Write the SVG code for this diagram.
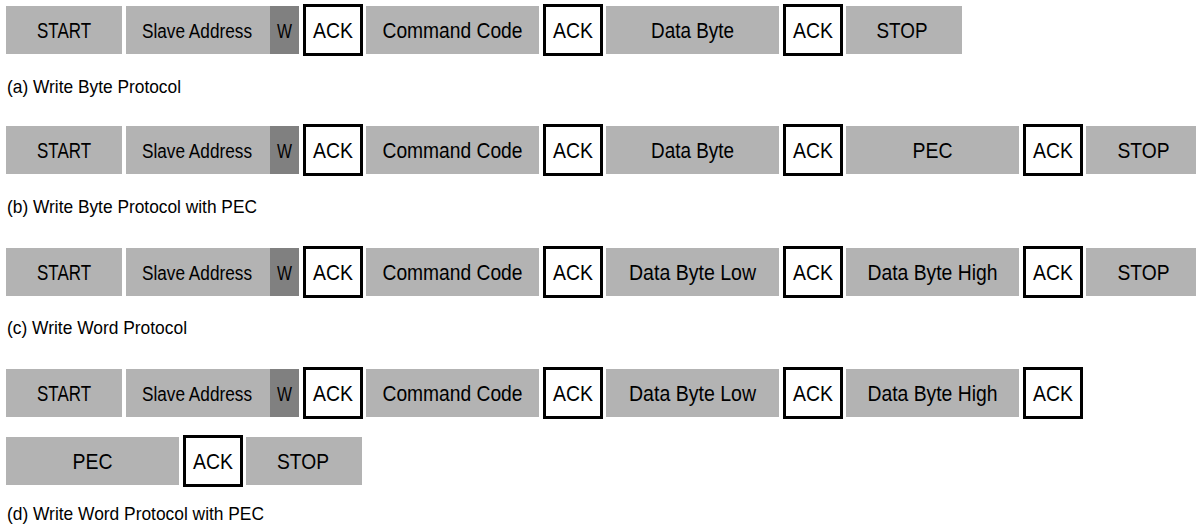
<svg xmlns="http://www.w3.org/2000/svg" width="1196" height="527" viewBox="0 0 1196 527">
<style>
.f{fill:#b3b3b3}
.w{fill:#808080}
.a{fill:#fff;stroke:#000;stroke-width:3}
.t{font-family:"Liberation Sans",Arial,sans-serif;font-size:22px;fill:#000;text-anchor:middle}
.s{font-size:20px}
.l{font-family:"Liberation Sans",Arial,sans-serif;font-size:18.5px;fill:#000}
</style>
<rect width="1196" height="527" fill="#fff"/>
<!-- Row (a) -->
<g id="a-start"><rect class="f" x="6" y="6" width="116" height="48"/><text class="t" x="64" y="38" textLength="54" lengthAdjust="spacingAndGlyphs">START</text></g>
<g id="a-addr"><rect class="f" x="126" y="6" width="144" height="48"/><text class="t s" x="197" y="38" textLength="110" lengthAdjust="spacingAndGlyphs">Slave Address</text></g>
<g id="a-w"><rect class="w" x="270" y="6" width="29" height="48"/><text class="t s" x="284.5" y="38" textLength="15" lengthAdjust="spacingAndGlyphs">W</text></g>
<g id="a-ack1"><rect class="a" x="304.5" y="5.5" width="57" height="49"/><text class="t" x="333" y="38" textLength="40" lengthAdjust="spacingAndGlyphs">ACK</text></g>
<g id="a-cmd"><rect class="f" x="366" y="6" width="173" height="48"/><text class="t" x="452.5" y="38" textLength="140" lengthAdjust="spacingAndGlyphs">Command Code</text></g>
<g id="a-ack2"><rect class="a" x="544.5" y="5.5" width="57" height="49"/><text class="t" x="573" y="38" textLength="40" lengthAdjust="spacingAndGlyphs">ACK</text></g>
<g id="a-data"><rect class="f" x="606" y="6" width="173" height="48"/><text class="t" x="692.5" y="38" textLength="83" lengthAdjust="spacingAndGlyphs">Data Byte</text></g>
<g id="a-ack3"><rect class="a" x="784.5" y="5.5" width="57" height="49"/><text class="t" x="813" y="38" textLength="40" lengthAdjust="spacingAndGlyphs">ACK</text></g>
<g id="a-stop"><rect class="f" x="846" y="6" width="116" height="48"/><text class="t" x="902" y="38" textLength="51" lengthAdjust="spacingAndGlyphs">STOP</text></g>
<text id="label-a" class="l" x="7" y="93" textLength="174" lengthAdjust="spacingAndGlyphs">(a) Write Byte Protocol</text>
<!-- Row (b) -->
<g id="b-start"><rect class="f" x="6" y="126" width="116" height="48"/><text class="t" x="64" y="158" textLength="54" lengthAdjust="spacingAndGlyphs">START</text></g>
<g id="b-addr"><rect class="f" x="126" y="126" width="144" height="48"/><text class="t s" x="197" y="158" textLength="110" lengthAdjust="spacingAndGlyphs">Slave Address</text></g>
<g id="b-w"><rect class="w" x="270" y="126" width="29" height="48"/><text class="t s" x="284.5" y="158" textLength="15" lengthAdjust="spacingAndGlyphs">W</text></g>
<g id="b-ack1"><rect class="a" x="304.5" y="125.5" width="57" height="49"/><text class="t" x="333" y="158" textLength="40" lengthAdjust="spacingAndGlyphs">ACK</text></g>
<g id="b-cmd"><rect class="f" x="366" y="126" width="173" height="48"/><text class="t" x="452.5" y="158" textLength="140" lengthAdjust="spacingAndGlyphs">Command Code</text></g>
<g id="b-ack2"><rect class="a" x="544.5" y="125.5" width="57" height="49"/><text class="t" x="573" y="158" textLength="40" lengthAdjust="spacingAndGlyphs">ACK</text></g>
<g id="b-data"><rect class="f" x="606" y="126" width="173" height="48"/><text class="t" x="692.5" y="158" textLength="83" lengthAdjust="spacingAndGlyphs">Data Byte</text></g>
<g id="b-ack3"><rect class="a" x="784.5" y="125.5" width="57" height="49"/><text class="t" x="813" y="158" textLength="40" lengthAdjust="spacingAndGlyphs">ACK</text></g>
<g id="b-pec"><rect class="f" x="846" y="126" width="173" height="48"/><text class="t" x="932.5" y="158" textLength="40" lengthAdjust="spacingAndGlyphs">PEC</text></g>
<g id="b-ack4"><rect class="a" x="1024.5" y="125.5" width="57" height="49"/><text class="t" x="1053" y="158" textLength="40" lengthAdjust="spacingAndGlyphs">ACK</text></g>
<g id="b-stop"><rect class="f" x="1086" y="126" width="116" height="48"/><text class="t" x="1143.5" y="158" textLength="52" lengthAdjust="spacingAndGlyphs">STOP</text></g>
<text id="label-b" class="l" x="7" y="213" textLength="250" lengthAdjust="spacingAndGlyphs">(b) Write Byte Protocol with PEC</text>
<!-- Row (c) -->
<g id="c-start"><rect class="f" x="6" y="248" width="116" height="48"/><text class="t" x="64" y="280" textLength="54" lengthAdjust="spacingAndGlyphs">START</text></g>
<g id="c-addr"><rect class="f" x="126" y="248" width="144" height="48"/><text class="t s" x="197" y="280" textLength="110" lengthAdjust="spacingAndGlyphs">Slave Address</text></g>
<g id="c-w"><rect class="w" x="270" y="248" width="29" height="48"/><text class="t s" x="284.5" y="280" textLength="15" lengthAdjust="spacingAndGlyphs">W</text></g>
<g id="c-ack1"><rect class="a" x="304.5" y="247.5" width="57" height="49"/><text class="t" x="333" y="280" textLength="40" lengthAdjust="spacingAndGlyphs">ACK</text></g>
<g id="c-cmd"><rect class="f" x="366" y="248" width="173" height="48"/><text class="t" x="452.5" y="280" textLength="140" lengthAdjust="spacingAndGlyphs">Command Code</text></g>
<g id="c-ack2"><rect class="a" x="544.5" y="247.5" width="57" height="49"/><text class="t" x="573" y="280" textLength="40" lengthAdjust="spacingAndGlyphs">ACK</text></g>
<g id="c-low"><rect class="f" x="606" y="248" width="173" height="48"/><text class="t" x="692.5" y="280" textLength="127" lengthAdjust="spacingAndGlyphs">Data Byte Low</text></g>
<g id="c-ack3"><rect class="a" x="784.5" y="247.5" width="57" height="49"/><text class="t" x="813" y="280" textLength="40" lengthAdjust="spacingAndGlyphs">ACK</text></g>
<g id="c-high"><rect class="f" x="846" y="248" width="173" height="48"/><text class="t" x="932.5" y="280" textLength="130" lengthAdjust="spacingAndGlyphs">Data Byte High</text></g>
<g id="c-ack4"><rect class="a" x="1024.5" y="247.5" width="57" height="49"/><text class="t" x="1053" y="280" textLength="40" lengthAdjust="spacingAndGlyphs">ACK</text></g>
<g id="c-stop"><rect class="f" x="1086" y="248" width="116" height="48"/><text class="t" x="1143.5" y="280" textLength="52" lengthAdjust="spacingAndGlyphs">STOP</text></g>
<text id="label-c" class="l" x="7" y="334" textLength="180" lengthAdjust="spacingAndGlyphs">(c) Write Word Protocol</text>
<!-- Row (d) -->
<g id="d-start"><rect class="f" x="6" y="369" width="116" height="48"/><text class="t" x="64" y="401" textLength="54" lengthAdjust="spacingAndGlyphs">START</text></g>
<g id="d-addr"><rect class="f" x="126" y="369" width="144" height="48"/><text class="t s" x="197" y="401" textLength="110" lengthAdjust="spacingAndGlyphs">Slave Address</text></g>
<g id="d-w"><rect class="w" x="270" y="369" width="29" height="48"/><text class="t s" x="284.5" y="401" textLength="15" lengthAdjust="spacingAndGlyphs">W</text></g>
<g id="d-ack1"><rect class="a" x="304.5" y="368.5" width="57" height="49"/><text class="t" x="333" y="401" textLength="40" lengthAdjust="spacingAndGlyphs">ACK</text></g>
<g id="d-cmd"><rect class="f" x="366" y="369" width="173" height="48"/><text class="t" x="452.5" y="401" textLength="140" lengthAdjust="spacingAndGlyphs">Command Code</text></g>
<g id="d-ack2"><rect class="a" x="544.5" y="368.5" width="57" height="49"/><text class="t" x="573" y="401" textLength="40" lengthAdjust="spacingAndGlyphs">ACK</text></g>
<g id="d-low"><rect class="f" x="606" y="369" width="173" height="48"/><text class="t" x="692.5" y="401" textLength="127" lengthAdjust="spacingAndGlyphs">Data Byte Low</text></g>
<g id="d-ack3"><rect class="a" x="784.5" y="368.5" width="57" height="49"/><text class="t" x="813" y="401" textLength="40" lengthAdjust="spacingAndGlyphs">ACK</text></g>
<g id="d-high"><rect class="f" x="846" y="369" width="173" height="48"/><text class="t" x="932.5" y="401" textLength="130" lengthAdjust="spacingAndGlyphs">Data Byte High</text></g>
<g id="d-ack4"><rect class="a" x="1024.5" y="368.5" width="57" height="49"/><text class="t" x="1053" y="401" textLength="40" lengthAdjust="spacingAndGlyphs">ACK</text></g>
<g id="d-pec"><rect class="f" x="6" y="437" width="173" height="48"/><text class="t" x="92.5" y="469" textLength="40" lengthAdjust="spacingAndGlyphs">PEC</text></g>
<g id="d-ack5"><rect class="a" x="184.5" y="436.5" width="57" height="49"/><text class="t" x="213" y="469" textLength="40" lengthAdjust="spacingAndGlyphs">ACK</text></g>
<g id="d-stop"><rect class="f" x="246" y="437" width="116" height="48"/><text class="t" x="303" y="469" textLength="52" lengthAdjust="spacingAndGlyphs">STOP</text></g>
<text id="label-d" class="l" x="7" y="520" textLength="257" lengthAdjust="spacingAndGlyphs">(d) Write Word Protocol with PEC</text>
<g id="connectors"/>
</svg>
